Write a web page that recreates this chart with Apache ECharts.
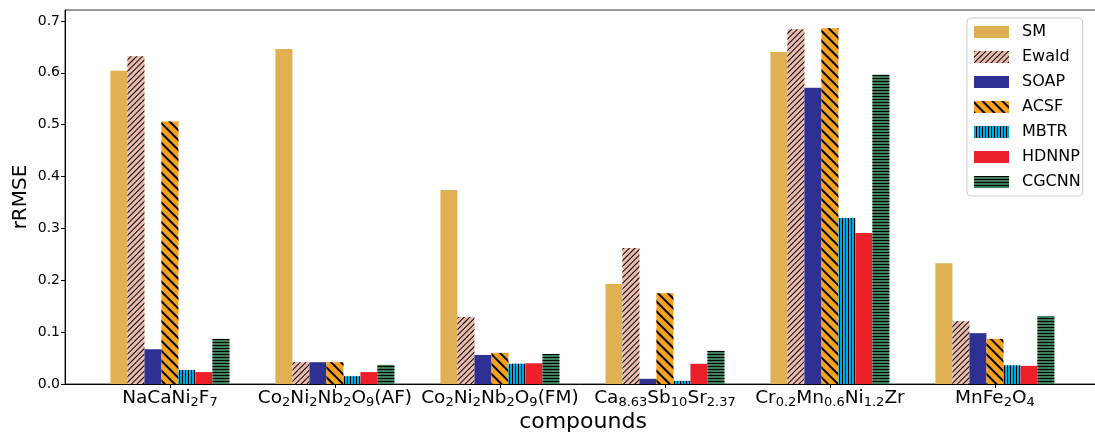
<!DOCTYPE html>
<html><head><meta charset="utf-8">
<script src="https://cdn.jsdelivr.net/npm/echarts@6/dist/echarts.min.js"></script>
<style>html,body{margin:0;padding:0;background:#fff;overflow:hidden}#c{width:1095px;height:432px}</style>
</head><body><div id="c"></div>
<script>
const categories = ['NaCaNi{s|2}F{s|7}', 'Co{s|2}Ni{s|2}Nb{s|2}O{s|9}(AF)', 'Co{s|2}Ni{s|2}Nb{s|2}O{s|9}(FM)', 'Ca{s|8.63}Sb{s|10}Sr{s|2.37}', 'Cr{s|0.2}Mn{s|0.6}Ni{s|1.2}Zr', 'MnFe{s|2}O{s|4}'];
const seriesNames = ['SM', 'Ewald', 'SOAP', 'ACSF', 'MBTR', 'HDNNP', 'CGCNN'];
const SM    = [0.604, 0.646, 0.374, 0.193, 0.640, 0.233];
const Ewald = [0.632, 0.042, 0.129, 0.262, 0.684, 0.121];
const SOAP  = [0.067, 0.042, 0.056, 0.010, 0.571, 0.098];
const ACSF  = [0.506, 0.042, 0.060, 0.175, 0.686, 0.087];
const MBTR  = [0.027, 0.015, 0.039, 0.006, 0.320, 0.036];
const HDNNP = [0.023, 0.023, 0.040, 0.039, 0.291, 0.035];
const CGCNN = [0.087, 0.037, 0.058, 0.064, 0.596, 0.131];
const yTicks = [0, 0.1, 0.2, 0.3, 0.4, 0.5, 0.6, 0.7];

const values = [SM, Ewald, SOAP, ACSF, MBTR, HDNNP, CGCNN];
const colors = ['#dfb153', '#ebbcad', '#2e3192', '#f7a11d', '#00a9e6', '#ed2029', '#3f7f57'];
const decals = [
  null,
  {symbol:'rect', color:'#000', dashArrayX:[1,0], dashArrayY:[1,3], symbolSize:1, rotation:-Math.PI/4},
  null,
  {symbol:'rect', color:'#000', dashArrayX:[1,0], dashArrayY:[2,5], symbolSize:1, rotation:Math.PI/4},
  {symbol:'rect', color:'#000', dashArrayX:[1,0], dashArrayY:[1,2], symbolSize:1, rotation:Math.PI/2},
  null,
  {symbol:'rect', color:'#000', dashArrayX:[1,0], dashArrayY:[1,2], symbolSize:1, rotation:0}
];
const font = 'DejaVu Sans';
const series = seriesNames.map((n, i) => ({
  name: n, type: 'bar', barWidth: 17, barGap: '0%',
  data: values[i].map((v, k) => [k, v]),
  itemStyle: Object.assign({color: colors[i]}, decals[i] ? {decal: decals[i]} : {})
}));

const chart = echarts.init(document.getElementById('c'), null, {renderer: 'canvas'});
chart.setOption({
  animation: false,
  textStyle: {fontFamily: font},
  grid: {left: 65, right: -6, top: 10, bottom: 48, show: true, borderColor: '#333', borderWidth: 1,
         outerBoundsMode: 'none', containLabel: false},
  legend: {
    orient: 'vertical', left: 967, top: 18, itemWidth: 35, itemHeight: 12, itemGap: 9,
    icon: 'rect',
    padding: [6, 2, 6, 7], borderColor: '#ccc', borderWidth: 1, borderRadius: 4,
    textStyle: {fontSize: 16, color: '#000', fontFamily: font, padding: [0, 0, 0, 8]},
    data: seriesNames
  },
  xAxis: {
    type: 'value', min: -0.636, max: 5.643,
    name: 'compounds', nameLocation: 'middle', nameGap: 27, nameMoveOverlap: false,
    nameTextStyle: {fontSize: 22, color: '#000', fontFamily: font},
    splitLine: {show: false},
    axisLine: {onZero: false, lineStyle: {color: '#000'}},
    axisTick: {show: true, length: 4, inside: false, customValues: [0,1,2,3,4,5], lineStyle: {color: '#000'}},
    axisLabel: {
      customValues: [0,1,2,3,4,5], margin: 3, color: '#000',
      formatter: v => '{m|' + categories[Math.round(v)].replace(/\{s\|([^}]*)\}/g, '}{s|$1}{m|') + '}',
      rich: {
        m: {fontSize: 18.5, fontFamily: font, color: '#000', lineHeight: 22, verticalAlign: 'middle'},
        s: {fontSize: 13, fontFamily: font, color: '#000', lineHeight: 10, verticalAlign: 'bottom'}
      }
    }
  },
  yAxis: {
    type: 'value', min: 0, max: 0.721,
    name: 'rRMSE', nameLocation: 'middle', nameGap: 34, nameMoveOverlap: false,
    nameTextStyle: {fontSize: 20, color: '#000', fontFamily: font},
    splitLine: {show: false},
    axisLine: {show: true, onZero: false, lineStyle: {color: '#000'}},
    axisTick: {show: true, length: 4, customValues: yTicks, lineStyle: {color: '#000'}},
    axisLabel: {customValues: yTicks, fontSize: 14, color: '#000', margin: 5, formatter: v => v.toFixed(1)}
  },
  series: series
});
</script></body></html>
